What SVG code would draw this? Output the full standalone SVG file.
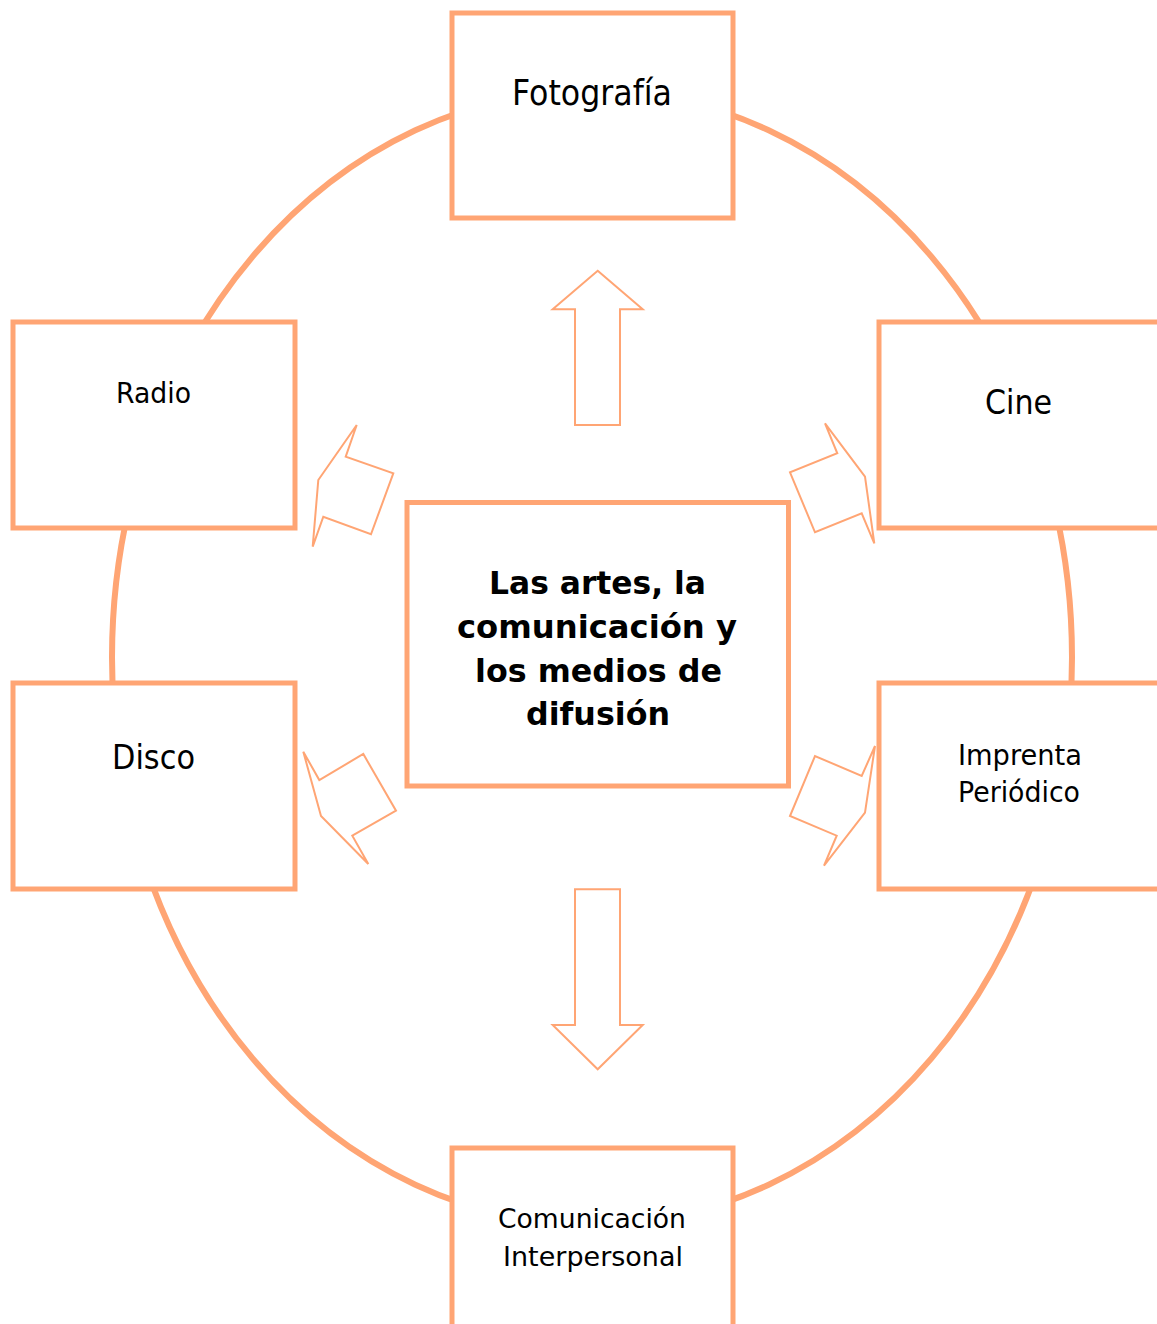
<svg xmlns="http://www.w3.org/2000/svg" width="1157" height="1324" viewBox="0 0 1157 1324">
<style>
.box{fill:#ffffff;stroke:#FFA574;stroke-width:5}
.ring{fill:none;stroke:#FFA574;stroke-width:6}
.arr{fill:#ffffff;stroke:#FFA574;stroke-width:2;stroke-linejoin:miter}
.t{font-family:"DejaVu Sans","Liberation Sans",sans-serif;fill:#000000}
.b{font-family:"DejaVu Sans","Liberation Sans",sans-serif;font-weight:bold;fill:#000000}
</style>
<rect x="0" y="0" width="1157" height="1324" fill="#ffffff"/>
<g id="ring">
<ellipse class="ring" cx="592" cy="657.5" rx="480" ry="567"/>
</g>
<g id="connectors">
<polygon class="arr" points="597.7,270.7 642.7,309.3 620,309.3 620,425 575,425 575,309.3 552.7,309.3"/>
<polygon class="arr" points="575,889.3 620,889.3 620,1025 642.7,1025 597.7,1069.3 552.7,1025 575,1025"/>
<polygon class="arr" points="356.7,425 345.7,456.7 393.3,473.3 371,534.3 323.3,516.7 312.7,546.7 318.3,480"/>
<polygon class="arr" points="825,423.3 837.3,453.3 790,472.3 815,532.3 861.7,513.3 874.3,543.3 865,476.7"/>
<polygon class="arr" points="303.3,751.7 319.3,780 363.3,754 396,810.7 352.3,835.7 368.3,864 321,816"/>
<polygon class="arr" points="875,746 861.7,776 815,756 790,816 836.7,835.7 824,865.7 865,812.7"/>
</g>
<g id="fotografia">
<rect class="box" x="452" y="13" width="281" height="205"/>
<text class="t" x="512" y="105" font-size="35" textLength="160" lengthAdjust="spacingAndGlyphs">Fotografía</text>
</g>
<g id="radio">
<rect class="box" x="13" y="322" width="282" height="206"/>
<text class="t" x="116" y="403" font-size="29" textLength="75" lengthAdjust="spacingAndGlyphs">Radio</text>
</g>
<g id="cine">
<rect class="box" x="879" y="322" width="282" height="206"/>
<text class="t" x="985" y="414" font-size="34" textLength="67" lengthAdjust="spacingAndGlyphs">Cine</text>
</g>
<g id="disco">
<rect class="box" x="13" y="683" width="282" height="206"/>
<text class="t" x="112" y="769" font-size="34" textLength="83" lengthAdjust="spacingAndGlyphs">Disco</text>
</g>
<g id="imprenta">
<rect class="box" x="879" y="683" width="282" height="206"/>
<text class="t" x="958" y="765" font-size="29" textLength="124" lengthAdjust="spacingAndGlyphs">Imprenta</text>
<text class="t" x="958" y="802" font-size="29" textLength="122" lengthAdjust="spacingAndGlyphs">Periódico</text>
</g>
<g id="comunicacion">
<rect class="box" x="452" y="1148" width="281" height="206"/>
<text class="t" x="498" y="1228" font-size="27" textLength="188" lengthAdjust="spacingAndGlyphs">Comunicación</text>
<text class="t" x="503" y="1266" font-size="27" textLength="180" lengthAdjust="spacingAndGlyphs">Interpersonal</text>
</g>
<g id="centro">
<rect class="box" x="407" y="502.5" width="381.5" height="283.5"/>
<text class="b" x="489" y="594" font-size="32" textLength="217" lengthAdjust="spacingAndGlyphs">Las artes, la</text>
<text class="b" x="457" y="638" font-size="32" textLength="280" lengthAdjust="spacingAndGlyphs">comunicación y</text>
<text class="b" x="475" y="682" font-size="32" textLength="247" lengthAdjust="spacingAndGlyphs">los medios de</text>
<text class="b" x="526" y="725" font-size="32" textLength="144" lengthAdjust="spacingAndGlyphs">difusión</text>
</g>
</svg>
